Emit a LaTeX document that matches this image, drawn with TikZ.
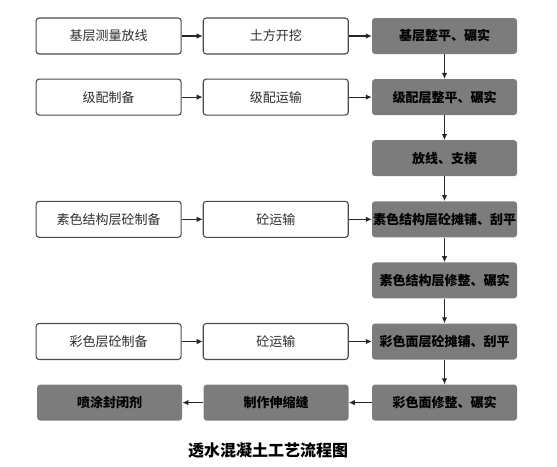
\documentclass[tikz,border=0pt]{standalone}
\usepackage{fontspec}
\setmainfont{Noto Sans CJK SC}
\usepackage{tikz}
\usetikzlibrary{arrows.meta, positioning}
\usepackage{xcolor}
\definecolor{stepgray}{HTML}{7C7C7C}
\definecolor{edgegray}{HTML}{4A4A4A}
\definecolor{inkgray}{HTML}{2E2E2E}
\tikzset{
  prepbox/.style={rectangle, rounded corners=3pt, draw=edgegray, fill=white,
        line width=1.1pt, minimum width=145pt, minimum height=36pt,
        inner sep=0pt, text=inkgray, font=\fontsize{13pt}{15pt}\selectfont},
  workbox/.style={rectangle, rounded corners=3pt, fill=stepgray,
        minimum width=145pt, minimum height=36pt, inner sep=0pt,
        text=black, font=\bfseries\fontsize{13pt}{15pt}\selectfont},
  flow/.style={-{Latex[length=6pt,width=5.5pt]}, line width=1.1pt, draw=black!85},
}

\begin{document}
\begin{tikzpicture}
\useasboundingbox (0,0) rectangle (557pt,-466pt);
% main line on the right
\node[workbox] (base) at (444.5pt,-36pt) {基层整平、碾实};
\node[workbox, below=24.7pt of base] (grade) {级配层整平、碾实};
\node[workbox, below=24.7pt of grade] (mold) {放线、支模};
\node[workbox, below=24.7pt of mold] (plainpave) {素色结构层砼摊铺、刮平};
\node[workbox, below=24.7pt of plainpave] (plaintrim) {素色结构层修整、碾实};
\node[workbox, below=24.7pt of plaintrim] (colorpave) {彩色面层砼摊铺、刮平};
\node[workbox, below=24.7pt of colorpave] (colortrim) {彩色面修整、碾实};
\node[workbox, left=23pt of colortrim] (joint) {制作伸缩缝};
\node[workbox, left=21pt of joint] (seal) {喷涂封闭剂};
% feeding steps
\node[prepbox, left=23pt of base] (dig) {土方开挖};
\node[prepbox, left=21pt of dig] (survey) {基层测量放线};
\node[prepbox, left=23pt of grade] (gradehaul) {级配运输};
\node[prepbox, left=21pt of gradehaul] (gradeprep) {级配制备};
\node[prepbox, left=23pt of plainpave] (plainhaul) {砼运输};
\node[prepbox, left=21pt of plainhaul] (plainprep) {素色结构层砼制备};
\node[prepbox, left=23pt of colorpave] (colorhaul) {砼运输};
\node[prepbox, left=21pt of colorhaul] (colorprep) {彩色层砼制备};
\node[font=\bfseries\fontsize{16pt}{18pt}\selectfont] (title) at (268pt,-451pt) {透水混凝土工艺流程图};

\draw[flow] (survey) -- (dig);
\draw[flow] (dig) -- (base);
\draw[flow] (gradeprep) -- (gradehaul);
\draw[flow] (gradehaul) -- (grade);
\draw[flow] (plainprep) -- (plainhaul);
\draw[flow] (plainhaul) -- (plainpave);
\draw[flow] (colorprep) -- (colorhaul);
\draw[flow] (colorhaul) -- (colorpave);
\draw[flow] (base) -- (grade);
\draw[flow] (grade) -- (mold);
\draw[flow] (mold) -- (plainpave);
\draw[flow] (plainpave) -- (plaintrim);
\draw[flow] (plaintrim) -- (colorpave);
\draw[flow] (colorpave) -- (colortrim);
\draw[flow] (colortrim) -- (joint);
\draw[flow] (joint) -- (seal);
\end{tikzpicture}
\end{document}
